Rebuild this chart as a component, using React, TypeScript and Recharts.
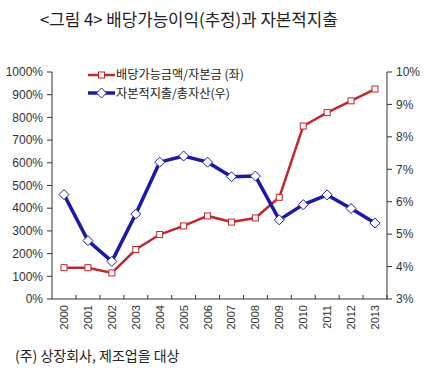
import React from 'react';
import { LineChart, Line, XAxis, YAxis } from 'recharts';

const years = ['2000', '2001', '2002', '2003', '2004', '2005', '2006', '2007', '2008', '2009', '2010', '2011', '2012', '2013'];
const dividendRatio = [138, 138, 115, 218, 284, 322, 366, 339, 357, 448, 762, 821, 873, 925];
const capexRatio = [6.22, 4.8, 4.16, 5.62, 7.22, 7.41, 7.22, 6.77, 6.79, 5.44, 5.91, 6.21, 5.79, 5.34];
const leftTicks = [0, 100, 200, 300, 400, 500, 600, 700, 800, 900, 1000];
const rightTicks = [3, 4, 5, 6, 7, 8, 9, 10];

const data = years.map((year, i) => ({ year, dividend: dividendRatio[i], capex: capexRatio[i] }));

const font = '"Liberation Sans", Arial, sans-serif';
const krFont = '"Noto Sans CJK KR", "Liberation Sans", sans-serif';

// plot area is 335px wide with 14 categories -> half a category step
const HALF_STEP = 12;

const SquareDot = (props: any) => {
  const { cx, cy } = props;
  if (cx == null || cy == null) return null;
  return <rect x={cx - 3} y={cy - 3} width={6} height={6} fill="#fff" stroke="#c0282d" strokeWidth={1} />;
};

const DiamondDot = (props: any) => {
  const { cx, cy } = props;
  if (cx == null || cy == null) return null;
  return (
    <path
      d={`M${cx},${cy - 5} L${cx + 5},${cy} L${cx},${cy + 5} L${cx - 5},${cy} Z`}
      fill="#fff"
      stroke="#1a1a9a"
      strokeWidth={1}
    />
  );
};

// label rotated, tick mark on the boundary between categories (pointing inward)
const YearTick = (props: any) => {
  const { x, y, payload } = props;
  return (
    <g>
      <line x1={x + HALF_STEP} y1={y - 4} x2={x + HALF_STEP} y2={y} stroke="#333" />
      <text
        x={x}
        y={y + 6}
        transform={`rotate(-90 ${x} ${y + 6})`}
        textAnchor="end"
        dominantBaseline="central"
        fontSize={11}
        fontFamily={font}
        fill="#333"
      >
        {payload.value}
      </text>
    </g>
  );
};

const legendText: React.CSSProperties = {
  position: 'absolute',
  left: 116,
  fontSize: 12.2,
  color: '#222',
  lineHeight: '17px',
  whiteSpace: 'nowrap',
};

export default function App() {
  return (
    <div style={{ position: 'absolute', left: 0, top: 0, width: 430, height: 370, background: '#fff', fontFamily: krFont }}>
      <div style={{ position: 'absolute', left: 40, top: 7, fontSize: 16.8, color: '#222', whiteSpace: 'nowrap' }}>
        &lt;그림 4&gt; 배당가능이익(추정)과 자본적지출
      </div>

      <LineChart width={430} height={340} data={data} margin={{ top: 72, right: 0, bottom: 0, left: 0 }}>
        <XAxis
          dataKey="year"
          tick={<YearTick />}
          tickLine={false}
          tickSize={0}
          tickMargin={0}
          axisLine={{ stroke: '#333' }}
          height={41}
          interval={0}
          padding={{ left: HALF_STEP, right: HALF_STEP }}
        />
        <YAxis
          yAxisId="left"
          domain={[0, 1000]}
          ticks={leftTicks}
          tickFormatter={(v) => `${v}%`}
          width={52}
          tick={{ fontSize: 12, fontFamily: font, fill: '#333' }}
          tickLine={{ stroke: '#333' }}
          axisLine={{ stroke: '#333' }}
          tickSize={5}
          tickMargin={4}
        />
        <YAxis
          yAxisId="right"
          orientation="right"
          domain={[3, 10]}
          ticks={rightTicks}
          tickFormatter={(v) => `${v}%`}
          width={43}
          tick={{ fontSize: 12, fontFamily: font, fill: '#333', textAnchor: 'start' }}
          tickLine={{ stroke: '#333' }}
          axisLine={{ stroke: '#333' }}
          tickSize={5}
          tickMargin={4}
        />
        <Line
          yAxisId="left"
          type="linear"
          dataKey="dividend"
          stroke="#c0282d"
          strokeWidth={2.5}
          dot={<SquareDot />}
          isAnimationActive={false}
        />
        <Line
          yAxisId="right"
          type="linear"
          dataKey="capex"
          stroke="#1a1aa8"
          strokeWidth={3.5}
          dot={<DiamondDot />}
          isAnimationActive={false}
        />
      </LineChart>

      <svg style={{ position: 'absolute', left: 88, top: 66 }} width={30} height={38}>
        <line x1={0} y1={9} x2={27} y2={9} stroke="#c0282d" strokeWidth={2.5} />
        <rect x={10.5} y={6} width={6} height={6} fill="#fff" stroke="#c0282d" strokeWidth={1} />
        <line x1={0} y1={27} x2={27} y2={27} stroke="#1a1aa8" strokeWidth={3.5} />
        <path d="M13.5,22 L18.5,27 L13.5,32 L8.5,27 Z" fill="#fff" stroke="#1a1a9a" strokeWidth={1} />
      </svg>
      <div style={{ ...legendText, top: 66 }}>배당가능금액/자본금 (좌)</div>
      <div style={{ ...legendText, top: 85 }}>자본적지출/총자산(우)</div>

      <div style={{ position: 'absolute', left: 15, top: 345, fontSize: 14, color: '#222', whiteSpace: 'nowrap' }}>
        (주) 상장회사, 제조업을 대상
      </div>
    </div>
  );
}
